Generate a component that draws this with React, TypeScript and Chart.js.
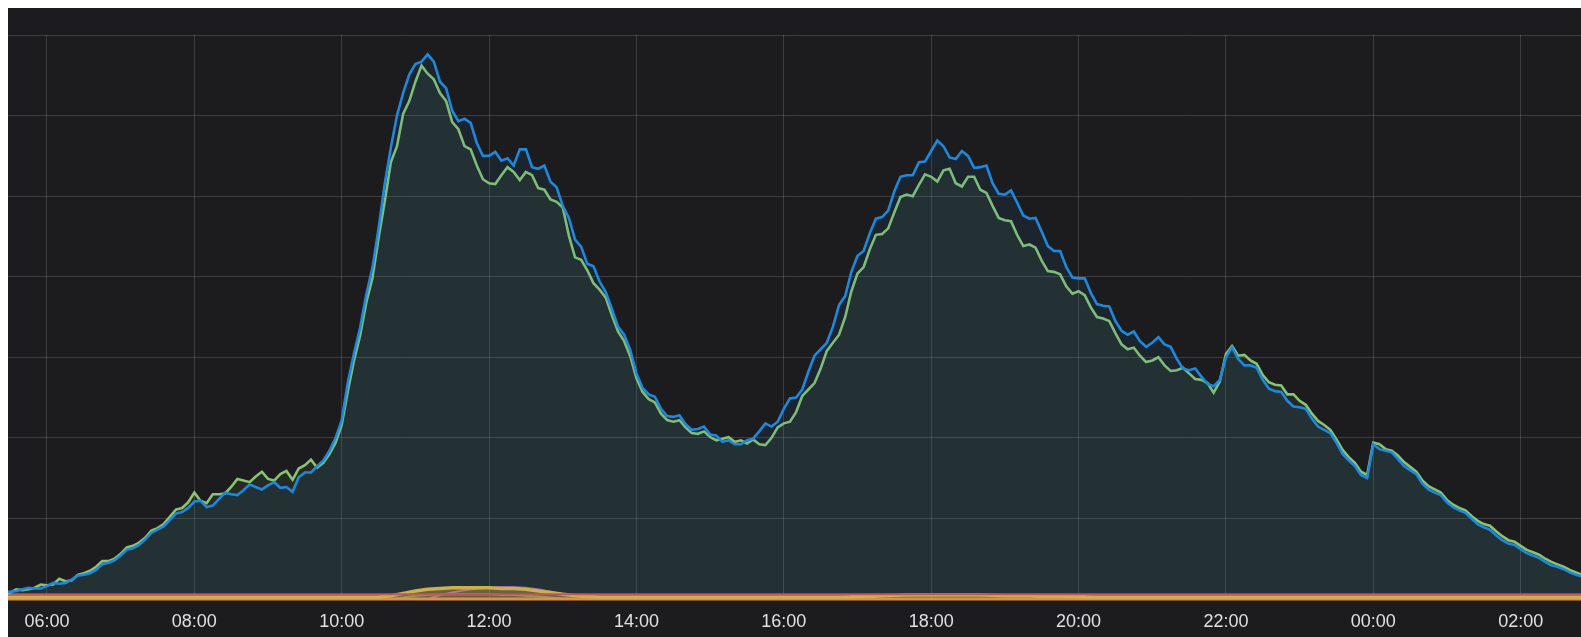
import React, { useEffect, useRef } from "react";
import { Chart, registerables } from "chart.js";

Chart.register(...registerables);

// Main series: first sample at 05:20, one sample every 5 minutes.
// Small series: first sample at 05:20, one sample every 10 minutes.
const START_MIN = 320;
const MAIN_STEP_MIN = 5;
const SMALL_STEP_MIN = 10;
const X_MIN = 5.471;
const X_MAX = 26.819;
const Y_MIN = 0;
const Y_MAX = 7;

const BLUE = [
  0.05, 0.09, 0.09, 0.10, 0.12, 0.14, 0.13, 0.13, 0.16, 0.20,
  0.19, 0.20, 0.24, 0.29, 0.30, 0.32, 0.36, 0.43, 0.45, 0.48,
  0.54, 0.61, 0.63, 0.67, 0.74, 0.82, 0.86, 0.90, 0.98, 1.06,
  1.08, 1.13, 1.21, 1.22, 1.14, 1.16, 1.24, 1.32, 1.30, 1.29,
  1.35, 1.42, 1.39, 1.36, 1.41, 1.45, 1.38, 1.39, 1.33, 1.51,
  1.57, 1.57, 1.65, 1.72, 1.84, 2.00, 2.22, 2.69, 3.05, 3.37,
  3.78, 4.11, 4.60, 5.15, 5.60, 6.00, 6.28, 6.51, 6.64, 6.67,
  6.76, 6.67, 6.42, 6.34, 6.06, 5.93, 5.96, 5.91, 5.66, 5.50,
  5.50, 5.55, 5.44, 5.47, 5.38, 5.58, 5.58, 5.36, 5.34, 5.38,
  5.18, 5.11, 4.88, 4.73, 4.46, 4.37, 4.16, 4.13, 3.94, 3.81,
  3.60, 3.38, 3.28, 3.09, 2.80, 2.62, 2.54, 2.51, 2.36, 2.27,
  2.26, 2.28, 2.17, 2.10, 2.11, 2.14, 2.04, 2.03, 1.95, 1.97,
  1.92, 1.92, 1.97, 1.99, 2.08, 2.18, 2.14, 2.20, 2.36, 2.49,
  2.50, 2.60, 2.82, 3.02, 3.10, 3.18, 3.38, 3.65, 3.76, 4.06,
  4.26, 4.32, 4.54, 4.72, 4.74, 4.82, 5.06, 5.24, 5.26, 5.26,
  5.42, 5.43, 5.56, 5.69, 5.62, 5.48, 5.46, 5.56, 5.50, 5.35,
  5.36, 5.38, 5.16, 5.03, 5.02, 5.07, 4.92, 4.76, 4.72, 4.73,
  4.56, 4.38, 4.32, 4.32, 4.12, 3.99, 3.98, 3.98, 3.80, 3.66,
  3.64, 3.63, 3.45, 3.33, 3.28, 3.32, 3.20, 3.13, 3.18, 3.25,
  3.16, 3.13, 2.98, 2.86, 2.84, 2.86, 2.76, 2.67, 2.64, 2.72,
  3.00, 3.12, 2.98, 2.90, 2.90, 2.87, 2.72, 2.61, 2.58, 2.57,
  2.46, 2.39, 2.38, 2.36, 2.24, 2.14, 2.10, 2.06, 1.94, 1.80,
  1.72, 1.65, 1.54, 1.50, 1.92, 1.86, 1.84, 1.82, 1.74, 1.65,
  1.60, 1.55, 1.43, 1.36, 1.32, 1.29, 1.20, 1.14, 1.10, 1.07,
  1.00, 0.93, 0.89, 0.86, 0.79, 0.73, 0.69, 0.67, 0.62, 0.57,
  0.54, 0.51, 0.46, 0.42, 0.40, 0.37, 0.33, 0.30, 0.28,
];

const GREEN = [
  0.05, 0.06, 0.08, 0.12, 0.11, 0.12, 0.14, 0.18, 0.17, 0.18,
  0.25, 0.22, 0.23, 0.30, 0.32, 0.35, 0.40, 0.47, 0.47, 0.50,
  0.56, 0.64, 0.66, 0.70, 0.76, 0.85, 0.88, 0.93, 1.02, 1.11,
  1.13, 1.20, 1.32, 1.22, 1.19, 1.30, 1.30, 1.31, 1.39, 1.49,
  1.47, 1.45, 1.52, 1.58, 1.49, 1.47, 1.55, 1.59, 1.48, 1.62,
  1.66, 1.73, 1.63, 1.69, 1.80, 1.94, 2.16, 2.58, 2.96, 3.27,
  3.68, 3.98, 4.48, 4.93, 5.42, 5.62, 6.02, 6.18, 6.42, 6.62,
  6.52, 6.45, 6.28, 6.18, 5.92, 5.83, 5.62, 5.58, 5.38, 5.21,
  5.16, 5.15, 5.26, 5.36, 5.30, 5.20, 5.30, 5.26, 5.10, 5.08,
  4.96, 4.93, 4.86, 4.51, 4.24, 4.21, 4.08, 3.92, 3.84, 3.74,
  3.52, 3.32, 3.20, 3.01, 2.74, 2.57, 2.48, 2.44, 2.30, 2.22,
  2.20, 2.22, 2.13, 2.06, 2.05, 2.08, 2.01, 1.97, 1.99, 2.01,
  1.95, 1.97, 1.93, 1.98, 1.92, 1.91, 2.00, 2.13, 2.18, 2.20,
  2.32, 2.52, 2.60, 2.68, 2.86, 3.08, 3.18, 3.28, 3.50, 3.82,
  4.04, 4.12, 4.34, 4.52, 4.53, 4.60, 4.80, 4.99, 5.02, 5.00,
  5.14, 5.27, 5.24, 5.18, 5.32, 5.34, 5.16, 5.12, 5.24, 5.24,
  5.08, 5.04, 4.88, 4.73, 4.70, 4.69, 4.52, 4.38, 4.40, 4.36,
  4.20, 4.07, 4.06, 4.03, 3.88, 3.79, 3.82, 3.77, 3.62, 3.50,
  3.48, 3.45, 3.30, 3.16, 3.10, 3.12, 3.02, 2.94, 2.96, 3.00,
  2.90, 2.83, 2.84, 2.87, 2.80, 2.73, 2.72, 2.68, 2.56, 2.70,
  3.04, 3.14, 3.02, 3.03, 2.96, 2.92, 2.78, 2.69, 2.66, 2.65,
  2.54, 2.54, 2.46, 2.41, 2.30, 2.21, 2.16, 2.10, 1.98, 1.85,
  1.76, 1.69, 1.58, 1.54, 1.94, 1.92, 1.86, 1.84, 1.78, 1.70,
  1.64, 1.58, 1.47, 1.40, 1.36, 1.32, 1.23, 1.17, 1.13, 1.10,
  1.03, 0.97, 0.93, 0.91, 0.84, 0.78, 0.73, 0.71, 0.66, 0.61,
  0.58, 0.55, 0.50, 0.46, 0.43, 0.40, 0.36, 0.33, 0.30,
];

const RED_SMALL = [
  0.06, 0.06, 0.06, 0.06, 0.06, 0.06, 0.06, 0.06, 0.06, 0.06,
  0.06, 0.06, 0.06, 0.06, 0.06, 0.06, 0.06, 0.06, 0.06, 0.06,
  0.06, 0.06, 0.06, 0.06, 0.06, 0.06, 0.06, 0.06, 0.06, 0.06,
  0.06, 0.06, 0.06, 0.06, 0.06, 0.06, 0.06, 0.06, 0.06, 0.06,
  0.06, 0.06, 0.06, 0.06, 0.06, 0.06, 0.06, 0.06, 0.06, 0.06,
  0.06, 0.06, 0.06, 0.06, 0.06, 0.06, 0.06, 0.06, 0.06, 0.06,
  0.06, 0.06, 0.06, 0.06, 0.06, 0.06, 0.06, 0.06, 0.06, 0.06,
  0.06, 0.06, 0.06, 0.06, 0.06, 0.06, 0.06, 0.06, 0.06, 0.06,
  0.06, 0.06, 0.06, 0.06, 0.06, 0.06, 0.06, 0.06, 0.06, 0.06,
  0.06, 0.06, 0.06, 0.06, 0.06, 0.06, 0.06, 0.06, 0.06, 0.06,
  0.06, 0.06, 0.06, 0.06, 0.06, 0.06, 0.06, 0.06, 0.06, 0.06,
  0.06, 0.06, 0.06, 0.06, 0.06, 0.06, 0.06, 0.06, 0.06, 0.06,
  0.06, 0.06, 0.06, 0.06, 0.06, 0.06, 0.06, 0.06, 0.06, 0.06,
];

const YELLOW_SMALL = [
  0.025, 0.025, 0.025, 0.025, 0.025, 0.025, 0.025, 0.025, 0.025, 0.025,
  0.025, 0.025, 0.025, 0.025, 0.025, 0.025, 0.025, 0.025, 0.025, 0.025,
  0.025, 0.025, 0.025, 0.025, 0.025, 0.025, 0.025, 0.025, 0.025, 0.025,
  0.025, 0.025, 0.04, 0.07, 0.10, 0.12, 0.13, 0.14, 0.14, 0.14,
  0.14, 0.13, 0.13, 0.12, 0.10, 0.08, 0.06, 0.04, 0.03, 0.025,
  0.025, 0.025, 0.025, 0.025, 0.025, 0.025, 0.025, 0.025, 0.025, 0.025,
  0.025, 0.025, 0.025, 0.025, 0.025, 0.025, 0.025, 0.025, 0.025, 0.025,
  0.03, 0.035, 0.04, 0.045, 0.05, 0.05, 0.05, 0.05, 0.05, 0.05,
  0.05, 0.045, 0.04, 0.04, 0.04, 0.035, 0.035, 0.03, 0.03, 0.025,
  0.025, 0.025, 0.025, 0.025, 0.025, 0.025, 0.025, 0.025, 0.025, 0.025,
  0.025, 0.025, 0.025, 0.025, 0.025, 0.025, 0.025, 0.025, 0.025, 0.025,
  0.025, 0.025, 0.025, 0.025, 0.025, 0.025, 0.025, 0.025, 0.025, 0.025,
  0.025, 0.025, 0.025, 0.025, 0.025, 0.025, 0.025, 0.025, 0.025, 0.025,
];

const ORANGE_SMALL = [
  0, 0, 0, 0, 0, 0, 0, 0, 0, 0,
  0, 0, 0, 0, 0, 0, 0, 0, 0, 0,
  0, 0, 0, 0, 0, 0, 0, 0, 0, 0,
  0, 0, 0, 0, 0, 0, 0, 0, 0, 0,
  0, 0, 0, 0, 0, 0, 0, 0, 0, 0,
  0, 0, 0, 0, 0, 0, 0, 0, 0, 0,
  0, 0, 0, 0, 0, 0, 0, 0, 0, 0,
  0, 0, 0, 0, 0, 0, 0, 0, 0, 0,
  0, 0, 0, 0, 0, 0, 0, 0, 0, 0,
  0, 0, 0, 0, 0, 0, 0, 0, 0, 0,
  0, 0, 0, 0, 0, 0, 0, 0, 0, 0,
  0, 0, 0, 0, 0, 0, 0, 0, 0, 0,
  0, 0, 0, 0, 0, 0, 0, 0, 0, 0,
];

const PURPLE_SMALL = [
  0, 0, 0, 0, 0, 0, 0, 0, 0, 0,
  0, 0, 0, 0, 0, 0, 0, 0, 0, 0,
  0, 0, 0, 0, 0, 0, 0, 0, 0, 0,
  0, 0, 0, 0, 0, 0, 0.05, 0.08, 0.11, 0.13,
  0.14, 0.15, 0.15, 0.14, 0.12, 0.09, 0.06, 0.04, 0.02, 0,
  0, 0, 0, 0, 0, 0, 0, 0, 0, 0,
  0, 0, 0, 0, 0, 0, 0, 0, 0, 0,
  0, 0, 0, 0, 0, 0, 0, 0, 0, 0,
  0, 0, 0, 0, 0, 0, 0, 0, 0, 0,
  0, 0, 0, 0, 0, 0, 0, 0, 0, 0,
  0, 0, 0, 0, 0, 0, 0, 0, 0, 0,
  0, 0, 0, 0, 0, 0, 0, 0, 0, 0,
  0, 0, 0, 0, 0, 0, 0, 0, 0, 0,
];

const GREEN_SMALL = [
  0, 0, 0, 0, 0, 0, 0, 0, 0, 0,
  0, 0, 0, 0, 0, 0, 0, 0, 0, 0,
  0, 0, 0, 0, 0, 0, 0, 0, 0, 0,
  0, 0, 0, 0.02, 0.04, 0.05, 0.06, 0.06, 0.06, 0.06,
  0.06, 0.05, 0.05, 0.04, 0.03, 0.02, 0.01, 0, 0, 0,
  0, 0, 0, 0, 0, 0, 0, 0, 0, 0,
  0, 0, 0, 0, 0, 0, 0, 0, 0, 0,
  0, 0, 0, 0, 0, 0, 0, 0, 0, 0,
  0, 0, 0, 0, 0, 0, 0, 0, 0, 0,
  0, 0, 0, 0, 0, 0, 0, 0, 0, 0,
  0, 0, 0, 0, 0, 0, 0, 0, 0, 0,
  0, 0, 0, 0, 0, 0, 0, 0, 0, 0,
  0, 0, 0, 0, 0, 0, 0, 0, 0, 0,
];

const MAIN_TIMES = BLUE.map((_, i) => (START_MIN + i * MAIN_STEP_MIN) / 60);
const SMALL_TIMES = RED_SMALL.map((_, i) => (START_MIN + i * SMALL_STEP_MIN) / 60);

const BG = "#1c1b1d";
const GRID = "rgba(255,255,255,0.15)";

function toPoints(values: number[], times: number[]) {
  return values.map((v, i) => ({ x: times[i], y: v }));
}

function formatHour(v: number) {
  const h = ((Math.round(v) % 24) + 24) % 24;
  return String(h).padStart(2, "0") + ":00";
}

export default function App() {
  const canvasRef = useRef<HTMLCanvasElement | null>(null);

  useEffect(() => {
    if (!canvasRef.current) return;
    const clip = { left: 0, right: 0, top: 0, bottom: 4 };
    const base = {
      pointRadius: 0,
      pointHoverRadius: 0,
      tension: 0,
      clip,
    };
    const chart = new Chart(canvasRef.current, {
      type: "line",
      data: {
        datasets: [
          {
            ...base,
            label: "blue",
            data: toPoints(BLUE, MAIN_TIMES),
            borderColor: "#1f88dc",
            backgroundColor: "rgba(31,120,193,0.10)",
            borderWidth: 2.6,
            fill: "origin",
          },
          {
            ...base,
            label: "green",
            data: toPoints(GREEN, MAIN_TIMES),
            borderColor: "#88c472",
            backgroundColor: "rgba(126,178,109,0.10)",
            borderWidth: 2.6,
            fill: "origin",
          },
          {
            ...base,
            label: "red",
            data: toPoints(RED_SMALL, SMALL_TIMES),
            borderColor: "#e0445a",
            borderWidth: 2,
            fill: false,
          },
          {
            ...base,
            label: "yellow",
            data: toPoints(YELLOW_SMALL, SMALL_TIMES),
            borderColor: "#eab839",
            backgroundColor: "rgba(234,184,57,0.40)",
            borderWidth: 3.5,
            fill: "origin",
          },
          {
            ...base,
            label: "orange",
            data: toPoints(ORANGE_SMALL, SMALL_TIMES),
            borderColor: "#ef843c",
            borderWidth: 3,
            fill: false,
          },
          {
            ...base,
            label: "purple",
            data: toPoints(PURPLE_SMALL, SMALL_TIMES),
            borderColor: "#a84fc0",
            borderWidth: 2,
            fill: false,
          },
          {
            ...base,
            label: "green small",
            data: toPoints(GREEN_SMALL, SMALL_TIMES),
            borderColor: "#629e51",
            borderWidth: 2,
            fill: false,
          },
        ],
      },
      options: {
        animation: false,
        responsive: false,
        maintainAspectRatio: false,
        layout: { padding: { top: 27, left: 0, right: 0, bottom: 0 } },
        plugins: {
          legend: { display: false },
          tooltip: { enabled: false },
        },
        scales: {
          x: {
            type: "linear",
            min: X_MIN,
            max: X_MAX,
            border: { display: false },
            grid: { color: GRID, lineWidth: 1, drawTicks: false },
            afterFit: (scale: any) => {
              scale.height = 38;
            },
            ticks: {
              stepSize: 2,
              includeBounds: false,
              autoSkip: false,
              maxRotation: 0,
              padding: 12,
              color: "#e0e0e1",
              font: { family: "'Liberation Sans', Arial, sans-serif", size: 18 },
              callback: (v: any) => formatHour(Number(v)),
            },
          },
          y: {
            min: Y_MIN,
            max: Y_MAX,
            border: { display: false },
            grid: { color: GRID, lineWidth: 1, drawTicks: false },
            ticks: { display: false, stepSize: 1 },
          },
        },
      },
    });
    return () => chart.destroy();
  }, []);

  return (
    <div
      style={{
        position: "fixed",
        left: 8,
        top: 8,
        width: 1573,
        height: 629,
        background: BG,
        overflow: "hidden",
      }}
    >
      <canvas ref={canvasRef} width={1573} height={629} style={{ display: "block" }} />
    </div>
  );
}
